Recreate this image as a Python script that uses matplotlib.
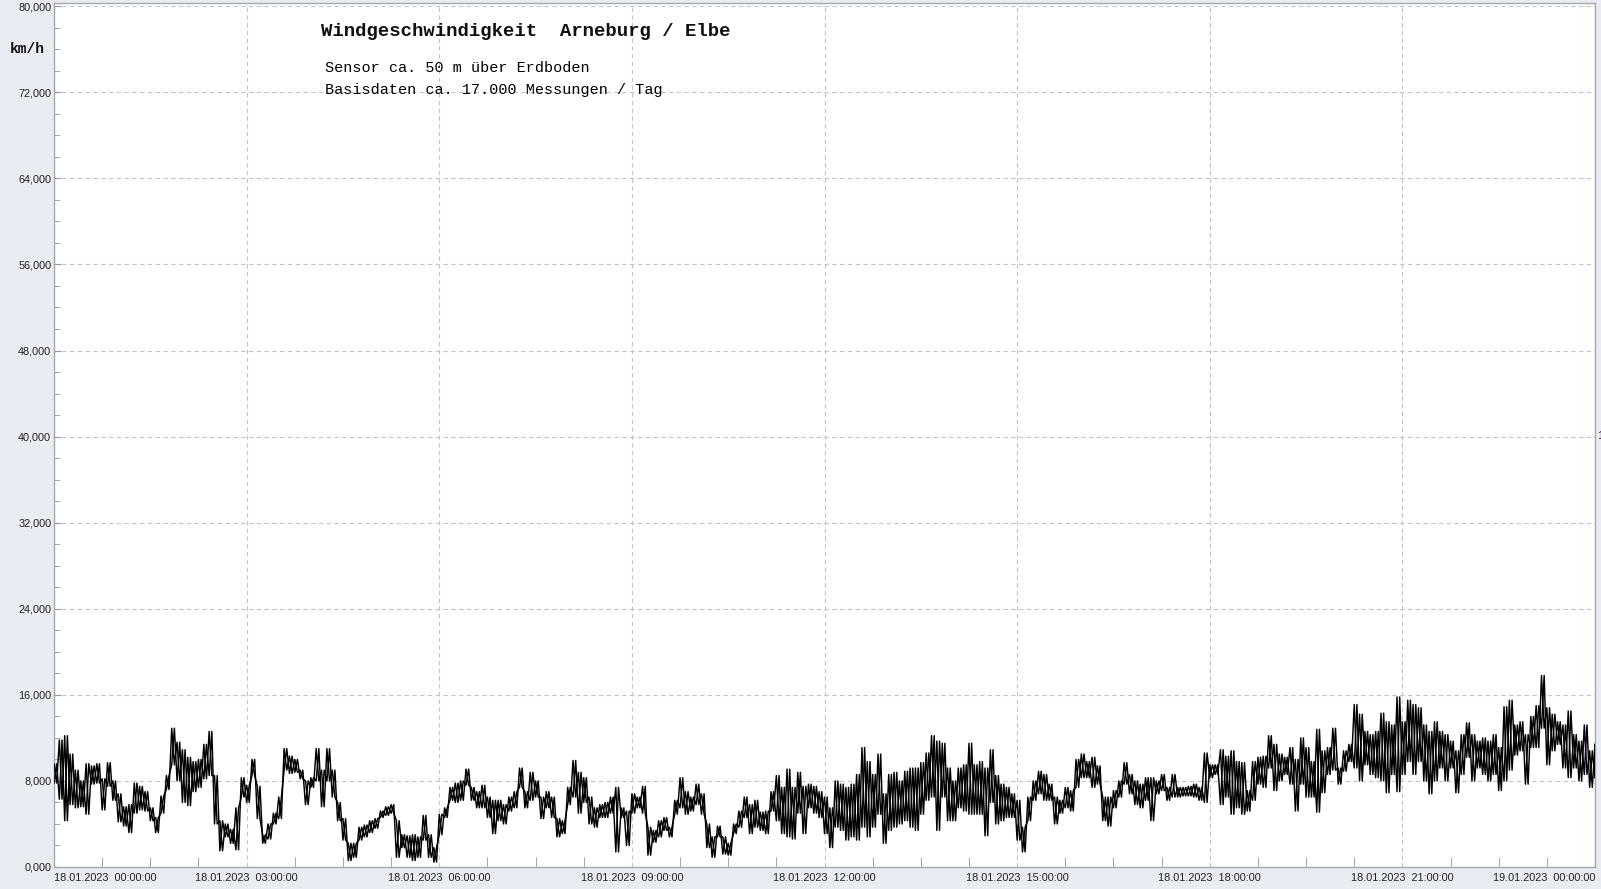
import matplotlib
matplotlib.use("Agg")
import matplotlib.pyplot as plt
import numpy as np
from matplotlib.ticker import MultipleLocator, FixedLocator, FuncFormatter

# ---- data ----
# start minute of each 5-minute block on 18.01.2023 (00:00 .. 24:00)
block_minutes = list(range(0, 1441, 5))
# upper and lower extent of the wind-speed trace inside each block (km/h)
speed_high = [
    9.6, 11.8, 12.2, 10.5, 9.0, 8.0, 9.6, 9.4, 9.6, 8.2, 9.7, 8.0, 6.8, 5.6, 5.8, 7.8, 7.5, 7.0, 5.5, 4.6,
    6.6, 8.5, 12.9, 11.6, 10.9, 10.2, 9.8, 10.0, 11.4, 12.6, 8.5, 4.3, 4.0, 3.5, 5.5, 8.3, 7.6, 10.0, 7.5, 3.0,
    4.0, 5.0, 6.5, 11.0, 10.3, 10.0, 9.0,
    8.0, 8.3, 11.0, 9.0, 11.0, 9.0, 6.0, 4.5, 2.2, 2.2, 3.7, 3.9, 4.3, 4.5, 5.2, 5.6, 5.8, 4.3, 3.0, 2.9,
    3.0, 2.8, 4.8, 3.0, 1.8, 4.9, 5.5, 7.4, 7.8, 8.0, 9.1, 7.4, 7.0, 7.6, 6.5, 6.2, 6.2, 5.8, 6.5, 7.0,
    9.2, 7.0, 8.8, 8.0, 6.5, 7.0,
    6.5, 4.5, 4.3, 7.4, 9.9, 8.8, 8.3, 6.5, 5.5, 5.8, 6.0, 6.5, 7.4, 5.5, 5.2, 6.8, 6.5, 7.5, 3.7, 3.4,
    4.3, 4.6, 3.7, 6.2, 8.3, 7.0, 6.5, 7.7, 6.8, 4.0, 2.8, 3.8, 2.8, 2.2, 4.0, 5.2, 6.5, 5.8, 6.2, 5.1,
    5.2, 7.0, 8.5, 7.4, 9.1, 7.4,
    8.8, 7.5, 7.7, 7.5, 7.0, 6.5, 5.5, 8.0, 7.7, 7.4, 7.7, 8.6, 11.1, 9.8, 8.6, 10.5, 6.8, 8.6, 8.8, 8.0,
    8.9, 9.2, 9.2, 9.7, 10.6, 12.2, 11.7, 11.5, 9.2, 8.0, 9.2, 9.5, 11.5, 9.5, 9.8, 9.2, 10.9, 8.5, 7.7, 7.4,
    6.8, 6.2, 3.7, 6.5, 8.0, 8.9, 8.6,
    7.7, 6.5, 6.2, 7.4, 7.1, 10.0, 10.5, 9.8, 10.2, 9.4, 6.5, 6.5, 7.1, 8.0, 9.7, 8.6, 8.0, 7.7, 8.3, 8.3,
    8.0, 8.6, 7.4, 8.6, 7.4, 7.4, 7.5, 7.7, 7.4, 10.6, 9.5, 9.5, 10.9, 10.3, 10.8, 9.8, 9.7, 7.1, 9.8, 10.2,
    10.3, 12.2, 11.4, 10.5, 10.2, 11.1, 10.0,
    12.0, 11.1, 9.8, 12.8, 10.8, 11.1, 12.9, 9.2, 10.8, 11.4, 15.1, 14.2, 12.6, 12.3, 12.6, 14.3, 13.5, 13.2, 15.8, 13.5,
    15.5, 15.1, 14.8, 13.2, 12.6, 13.5, 12.6, 12.3, 11.7, 10.8, 12.3, 13.4, 12.3, 11.7, 12.0, 11.7, 12.3, 11.1, 14.9, 15.5,
    13.2, 13.5, 12.3, 14.0, 15.0, 17.8, 14.8,
    14.2, 13.5, 13.2, 14.5, 12.3, 11.7, 13.2, 10.8, 11.4,
]
speed_low = [
    7.8, 6.3, 4.3, 5.8, 5.5, 5.6, 4.9, 7.7, 7.8, 5.3, 7.5, 6.2, 4.2, 3.8, 3.2, 5.0, 5.3, 5.2, 4.3, 3.2,
    5.0, 7.2, 9.5, 8.0, 6.0, 5.7, 7.0, 7.4, 8.2, 8.5, 4.0, 1.5, 2.8, 2.2, 1.6, 6.5, 6.0, 8.5, 4.5, 2.2,
    2.6, 4.0, 4.5, 9.0, 8.7, 8.8, 8.2,
    5.8, 7.4, 8.0, 5.6, 8.0, 6.5, 4.3, 2.5, 0.6, 0.9, 2.5, 2.8, 3.2, 3.6, 4.6, 4.8, 5.0, 0.9, 1.8, 0.9,
    0.6, 0.9, 2.5, 0.9, 0.45, 3.0, 4.6, 6.2, 6.0, 6.2, 7.6, 6.2, 5.5, 5.5, 4.6, 3.1, 4.3, 4.0, 5.2, 5.5,
    7.4, 5.5, 6.2, 6.5, 4.5, 5.5,
    4.6, 2.8, 3.1, 5.8, 6.5, 5.0, 6.0, 4.0, 3.7, 4.6, 4.6, 5.0, 1.4, 4.6, 2.0, 5.0, 5.5, 5.0, 1.1, 2.3,
    2.8, 3.4, 2.8, 4.9, 5.5, 4.9, 5.2, 5.8, 4.9, 1.8, 0.9, 2.8, 1.2, 1.1, 3.1, 3.7, 4.6, 3.1, 3.7, 3.4,
    3.1, 5.2, 4.3, 3.1, 2.8, 2.6,
    5.0, 3.1, 5.5, 5.0, 4.6, 3.1, 1.8, 3.7, 3.4, 2.5, 2.8, 2.5, 3.7, 2.8, 3.7, 4.9, 2.2, 3.4, 3.7, 4.0,
    4.3, 3.7, 3.4, 4.9, 6.2, 6.5, 3.4, 6.5, 4.3, 4.3, 5.5, 5.2, 4.9, 4.9, 4.9, 2.9, 6.0, 4.0, 4.3, 4.6,
    4.6, 2.5, 1.4, 4.3, 6.2, 6.8, 6.2,
    6.2, 4.0, 5.0, 5.5, 5.2, 7.4, 8.3, 8.3, 7.4, 7.7, 4.3, 3.8, 5.5, 6.5, 7.7, 6.8, 5.8, 5.5, 6.2, 4.3,
    6.8, 7.1, 6.2, 6.5, 6.5, 6.6, 6.6, 6.5, 6.2, 6.0, 8.3, 8.6, 5.8, 6.5, 4.9, 5.5, 4.9, 5.2, 6.2, 7.7,
    7.4, 9.2, 7.1, 8.0, 8.6, 7.7, 5.2,
    7.7, 6.5, 6.5, 5.1, 6.9, 8.6, 9.0, 7.7, 8.9, 9.8, 9.2, 8.0, 9.5, 8.6, 8.3, 8.0, 6.9, 8.6, 7.0, 8.6,
    9.8, 8.6, 9.8, 8.0, 6.8, 8.0, 9.2, 8.0, 9.2, 6.9, 8.6, 10.2, 8.0, 9.2, 8.6, 8.0, 8.6, 7.1, 8.0, 9.0,
    10.4, 10.8, 7.7, 11.1, 11.1, 12.9, 9.5,
    10.8, 11.4, 9.2, 8.3, 9.2, 8.0, 8.6, 7.4, 8.3,
]
x_tick_minutes = [0, 180, 360, 540, 720, 900, 1080, 1260, 1440]
x_tick_labels = [
    "18.01.2023  00:00:00", "18.01.2023  03:00:00", "18.01.2023  06:00:00",
    "18.01.2023  09:00:00", "18.01.2023  12:00:00", "18.01.2023  15:00:00",
    "18.01.2023  18:00:00", "18.01.2023  21:00:00", "19.01.2023  00:00:00",
]
y_ticks = [0, 8, 16, 24, 32, 40, 48, 56, 64, 72, 80]

title_text = "Windgeschwindigkeit  Arneburg / Elbe"
sub1 = "Sensor ca. 50 m über Erdboden"
sub2 = "Basisdaten ca. 17.000 Messungen / Tag"

# ---- build the trace: two crossing zig-zags through the high / low extents ----
xa, ya, xb, yb = [], [], [], []
for t, h, l in zip(block_minutes, speed_high, speed_low):
    xa.extend([t, t + 2.5]); ya.extend([h, l])
    xb.extend([t, t + 2.5]); yb.extend([l, h])
xa = np.clip(np.array(xa, dtype=float), 0, 1440)
xb = np.clip(np.array(xb, dtype=float), 0, 1440)

W, H = 1601, 889
bg = "#e9ecf3"
fig = plt.figure(figsize=(W / 100, H / 100), dpi=100, facecolor=bg)
L, R, T, B = 54, 1595, 3, 867
ax = fig.add_axes([L / W, (H - B) / H, (R - L) / W, (B - T) / H])
ax.set_facecolor("white")

ax.plot(xa, ya, color="black", lw=1.05, zorder=3)
ax.plot(xb, yb, color="black", lw=1.05, zorder=3)

ax.set_xlim(0, 1440)
ax.set_ylim(0, 80.3)

ax.xaxis.set_major_locator(FixedLocator(x_tick_minutes))
ax.xaxis.set_minor_locator(MultipleLocator(45))
ax.set_xticklabels(x_tick_labels)
ax.yaxis.set_major_locator(FixedLocator(y_ticks))
ax.yaxis.set_minor_locator(MultipleLocator(2))
ax.yaxis.set_major_formatter(FuncFormatter(lambda v, p: f"{v:.3f}".replace(".", ",")))

tick_col = "#9a9a9a"
ax.tick_params(axis="both", which="both", direction="in", colors=tick_col,
               labelcolor="#222222", labelsize=7.8)
ax.tick_params(axis="x", which="major", length=0, pad=4)
ax.tick_params(axis="x", which="minor", length=7)
ax.tick_params(axis="y", which="major", length=5, pad=2)
ax.tick_params(axis="y", which="minor", length=4)
for lab in ax.get_xticklabels() + ax.get_yticklabels():
    lab.set_fontfamily("Liberation Sans")
xl = ax.get_xticklabels()
xl[0].set_ha("left")
xl[-1].set_ha("right")

ax.grid(True, which="major", color="#c4c4c4", linestyle=(0, (4, 3)), linewidth=0.8, zorder=1)

for s in ax.spines.values():
    s.set_color("#a8a8a8")
    s.set_linewidth(1.0)

mono = "Liberation Mono"
fig.text(321 / W, 1 - 32 / H, title_text, family=mono, fontsize=13.7, fontweight="bold",
         va="center", ha="left", color="#111111")
fig.text(325 / W, 1 - 68 / H, sub1, family=mono, fontsize=10.9,
         va="center", ha="left", color="#000000")
fig.text(325 / W, 1 - 90 / H, sub2, family=mono, fontsize=10.9,
         va="center", ha="left", color="#000000")
fig.text(10 / W, 1 - 49 / H, "km/h", family=mono, fontsize=10.5, fontweight="bold",
         va="center", ha="left", color="#111111")
fig.text(1597 / W, 1 - 436 / H, "1", family="Liberation Sans", fontsize=8,
         va="center", ha="left", color="#400040")

fig.savefig("out.png", dpi=100, facecolor=bg)
